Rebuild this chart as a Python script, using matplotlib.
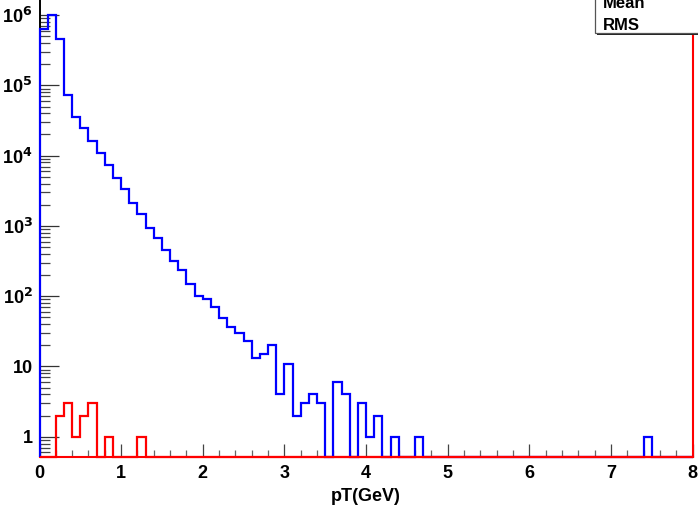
import numpy as np
import matplotlib
matplotlib.use("Agg")
import matplotlib.pyplot as plt
from matplotlib.ticker import FixedLocator, MultipleLocator, LogLocator, FuncFormatter, NullFormatter
from matplotlib.patches import Rectangle

# ---- histogram data: 80 bins of 0.1 GeV from 0 to 8 GeV ----
bin_edges = np.round(np.linspace(0.0, 8.0, 81), 3)

counts_all = [
    6.3e5, 9.9e5, 4.6e5, 7.4e4, 3.6e4, 2.5e4, 1.63e4, 1.09e4, 7.4e3, 4.85e3,
    3.38e3, 2.1e3, 1.48e3, 923, 665, 458, 313, 233, 149, 101,
    92, 70, 49, 36, 30, 23, 13, 15, 20, 4,
    11, 2, 3, 4, 3, 0, 6, 4, 0, 3,
    1, 2, 0, 1, 0, 0, 1, 0, 0, 0,
    0, 0, 0, 0, 0, 0, 0, 0, 0, 0,
    0, 0, 0, 0, 0, 0, 0, 0, 0, 0,
    0, 0, 0, 0, 1, 0, 0, 0, 0, 0,
]

counts_sel = [
    0, 0, 2, 3, 1, 2, 3, 0, 1, 0,
    0, 0, 1, 0, 0, 0, 0, 0, 0, 0,
] + [0] * 60

x_label = "pT(GeV)"
x_ticks = [0, 1, 2, 3, 4, 5, 6, 7, 8]
y_ticks = [1, 10, 1e2, 1e3, 1e4, 1e5, 1e6]
stat_rows = ["Mean", "RMS"]

y_min, y_max = 0.52, 1.64e6

FONT = ["Liberation Sans Narrow", "Liberation Sans", "DejaVu Sans"]
plt.rcParams["font.family"] = FONT
plt.rcParams["font.weight"] = "bold"
plt.rcParams["mathtext.fontset"] = "custom"
plt.rcParams["mathtext.rm"] = "Liberation Sans Narrow:bold"
plt.rcParams["mathtext.bf"] = "Liberation Sans Narrow:bold"
plt.rcParams["mathtext.default"] = "rm"

W, H = 698, 508
fig = plt.figure(figsize=(W / 100, H / 100), dpi=100)
fig.patch.set_facecolor("white")

x0, x1 = 39.5, 692.8
yb = 456.7
ax = fig.add_axes([x0 / W, (H - yb) / H, (x1 - x0) / W, yb / H])
ax.set_facecolor("white")
ax.set_yscale("log")
ax.set_xlim(bin_edges[0], bin_edges[-1])
ax.set_ylim(y_min, y_max)


def floor_to_axis(vals):
    v = np.asarray(vals, dtype=float)
    return np.where(v > 0, v, y_min)


ax.stairs(floor_to_axis(counts_all), bin_edges, baseline=y_min,
          color="#0000ff", lw=1.6, clip_on=False, zorder=3)
ax.stairs(floor_to_axis(counts_sel), bin_edges, baseline=y_min,
          color="#ff0000", lw=1.6, clip_on=False, zorder=4)

# frame
ax.spines["top"].set_visible(False)
ax.spines["left"].set_color("black")
ax.spines["left"].set_linewidth(1.4)
ax.spines["right"].set_color("#ff0000")
ax.spines["right"].set_linewidth(1.5)
ax.spines["bottom"].set_color("#ff0000")
ax.spines["bottom"].set_linewidth(1.5)

# x axis ticks
ax.xaxis.set_major_locator(FixedLocator(x_ticks))
ax.xaxis.set_minor_locator(MultipleLocator(0.2))
ax.tick_params(axis="x", which="major", direction="in", length=9.5, width=0.9,
               color="#444444", pad=6, labelsize=13)
ax.tick_params(axis="x", which="minor", direction="in", length=5, width=0.9,
               color="#666666")
ax.set_xticklabels([str(t) for t in x_ticks], fontweight="bold")

# y axis ticks
ax.yaxis.set_major_locator(FixedLocator(y_ticks))
ax.yaxis.set_minor_locator(LogLocator(base=10, subs=np.arange(2, 10), numticks=20))
ax.yaxis.set_minor_formatter(NullFormatter())


def dec_label(v, pos):
    e = int(round(np.log10(v)))
    if e == 0:
        return "1"
    if e == 1:
        return "10"
    return r"10$^{%d}$" % e


ax.yaxis.set_major_formatter(FuncFormatter(dec_label))
ax.tick_params(axis="y", which="major", direction="in", length=13.5, width=0.9,
               color="#333333", pad=5, labelsize=13)
ax.tick_params(axis="y", which="minor", direction="in", length=7, width=0.9,
               color="#444444")
ax.tick_params(axis="y", right=False, which="both")
ax.tick_params(axis="x", top=False, which="both")
for lab in ax.get_yticklabels():
    lab.set_fontweight("bold")

ax.set_xlabel(x_label, fontsize=13, fontweight="bold", labelpad=4)

# statistics box in the top right corner
bx, by = 595 / W, (H - 33.3) / H
shadow = Rectangle((bx + 2 / W, by - 2 / H), 0.2, 0.2, transform=fig.transFigure,
                   facecolor="#222222", edgecolor="none", zorder=9)
box = Rectangle((bx, by), 0.2, 0.2, transform=fig.transFigure,
                facecolor="white", edgecolor="#555555", lw=0.9, zorder=10)
fig.add_artist(shadow)
fig.add_artist(box)
for row, base in zip(stat_rows, [8.5, 30.0]):
    fig.text(603 / W, (H - base) / H, row, fontsize=12, fontweight="bold",
             va="baseline", ha="left", zorder=11)

fig.savefig("out.png", dpi=100, facecolor="white")
